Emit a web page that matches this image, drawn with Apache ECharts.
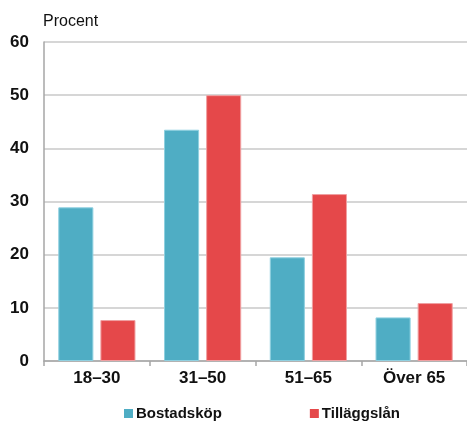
<!DOCTYPE html>
<html><head><meta charset="utf-8">
<script src="https://cdn.jsdelivr.net/npm/echarts@6/dist/echarts.min.js"></script>
<style>html,body{margin:0;padding:0;background:#fff}#c{width:467px;height:422px}</style>
</head><body><div id="c"></div>
<script>
const categories = ['18–30', '31–50', '51–65', 'Över 65'];
const bostadskop = [28.9, 43.5, 19.5, 8.2];
const tillaggslan = [7.7, 50.0, 31.4, 10.9];
const yTicks = [0, 10, 20, 30, 40, 50, 60];
const seriesNames = ['Bostadsköp', 'Tilläggslån'];

const chart = echarts.init(document.getElementById('c'), null, {renderer: 'canvas'});
chart.setOption({
  animation: false,
  textStyle: {fontFamily: 'Liberation Sans, Arial, sans-serif'},
  grid: {left: 44, right: 0, top: 42, bottom: 61},
  legend: {
    data: seriesNames,
    bottom: -4, left: 119,
    itemWidth: 9, itemHeight: 9, itemGap: 88,
    icon: 'rect',
    itemStyle: {borderWidth: 0},
    textStyle: {fontSize: 15, fontWeight: 'bold', color: '#111', padding: [0, 0, 0, -2]}
  },
  graphic: [{
    type: 'text', left: 43, top: 14,
    style: {text: 'Procent', fontSize: 16, fill: '#111', fontFamily: 'Liberation Sans, Arial, sans-serif'}
  }],
  xAxis: {
    type: 'category', data: categories,
    axisLine: {lineStyle: {color: '#a6a6a6', width: 1.5}},
    axisTick: {show: true, length: 5, lineStyle: {color: '#a6a6a6', width: 1.5}},
    axisLabel: {fontSize: 17, fontWeight: 'bold', color: '#111', margin: 9}
  },
  yAxis: {
    type: 'value', min: yTicks[0], max: yTicks[yTicks.length - 1], interval: 10,
    axisLine: {show: true, lineStyle: {color: '#a6a6a6', width: 1.5}},
    axisTick: {show: false},
    splitLine: {lineStyle: {color: '#c8c8c8', width: 1.5}},
    axisLabel: {fontSize: 17, fontWeight: 'bold', color: '#111', margin: 15}
  },
  series: [
    {name: seriesNames[0], type: 'bar', data: bostadskop, barGap: '20%', barCategoryGap: '27%',
     itemStyle: {color: '#4FADC4', borderColor: '#8fd0e0', borderWidth: 1}},
    {name: seriesNames[1], type: 'bar', data: tillaggslan,
     itemStyle: {color: '#E5484A', borderColor: '#f0a0a2', borderWidth: 1}}
  ]
});
</script></body></html>
